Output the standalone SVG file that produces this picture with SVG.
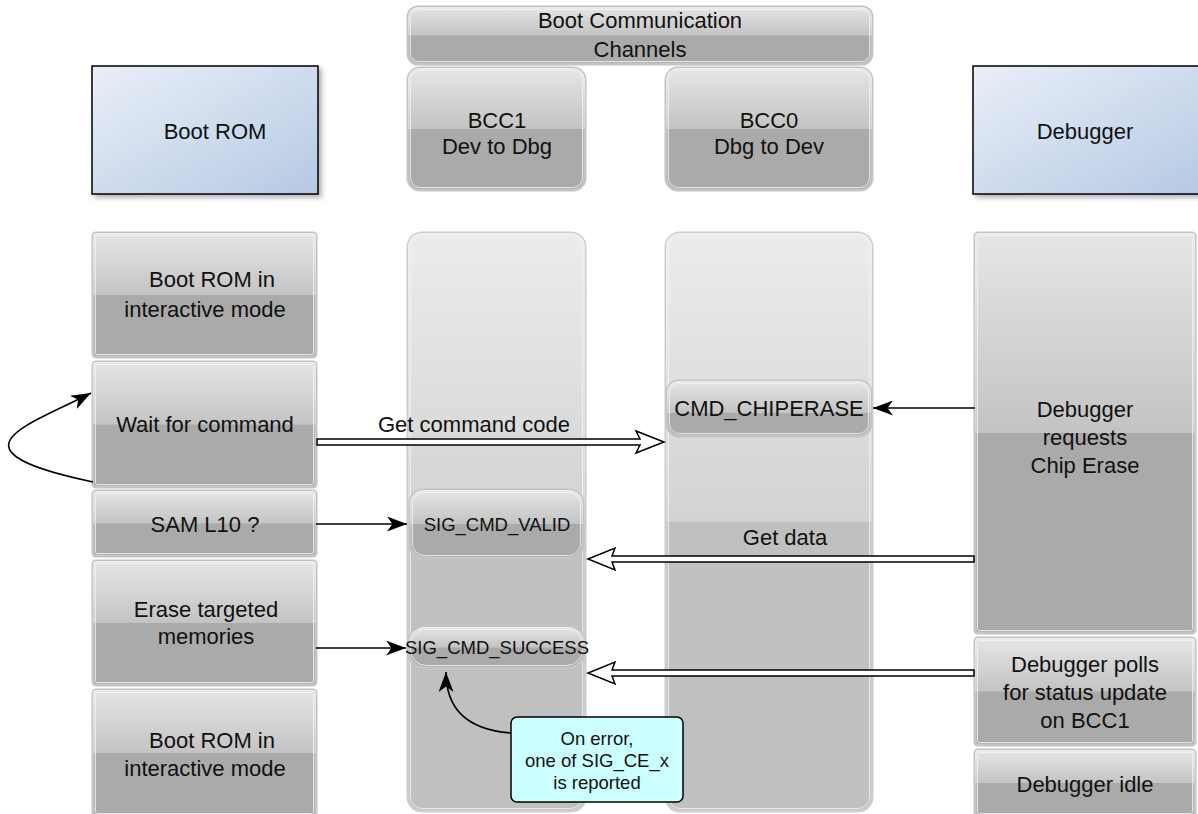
<svg xmlns="http://www.w3.org/2000/svg" width="1198" height="814" viewBox="0 0 1198 814">
<defs>
<linearGradient id="glass" x1="0" y1="0" x2="0" y2="1">
<stop offset="0" stop-color="#fff" stop-opacity="0.7"/>
<stop offset="1" stop-color="#fff" stop-opacity="0.3"/>
</linearGradient>
<linearGradient id="blue" x1="0" y1="0" x2="1" y2="1">
<stop offset="0" stop-color="#eaeff8"/>
<stop offset="1" stop-color="#b5c9e3"/>
</linearGradient>
<filter id="shadow" x="-10%" y="-10%" width="130%" height="130%">
<feDropShadow dx="3" dy="3" stdDeviation="2.5" flood-color="#000" flood-opacity="0.3"/>
</filter>
<marker id="arr" viewBox="0 0 20 15" refX="20" refY="7.5" markerWidth="20" markerHeight="15" markerUnits="userSpaceOnUse" orient="auto">
<path d="M0,0 L20,7.5 L0,15 L5.5,7.5 z" fill="#000"/>
</marker>
<style>
text{font-family:"Liberation Sans",Arial,sans-serif;font-size:22px;fill:#111;text-anchor:middle}
.s{font-size:18.5px}
.g{fill:#aaaaaa;stroke:#c4c4c4;stroke-width:3}
.gl{fill:#c0c0c0;stroke:#cdcdcd;stroke-width:3}
.hl{fill:url(#glass)}
.ring{fill:none;stroke:#f2f2f2;stroke-opacity:0.8;stroke-width:1}
.blue{fill:url(#blue);stroke:#000;stroke-width:1.5;filter:url(#shadow)}
.ln{fill:none;stroke:#000;stroke-width:1.6;marker-end:url(#arr)}
.flex{fill:#fff;stroke:#000;stroke-width:1.5;stroke-linejoin:miter}
</style>
</defs>

<g id="boot-rom-header">
<rect class="blue" x="92" y="66" width="226" height="128"/>
<text x="215" y="139">Boot ROM</text>
</g>
<g id="debugger-header">
<rect class="blue" x="973" y="66" width="230" height="128"/>
<text x="1085" y="139">Debugger</text>
</g>

<g id="bcc-header">
<rect class="g" x="408" y="7" width="464" height="57" rx="10"/>
<path class="hl" d="M408 35.5 V17 A10 10 0 0 1 418 7 H862 A10 10 0 0 1 872 17 V35.5 Z"/>
<rect class="ring" x="410.5" y="9.5" width="459" height="52" rx="8"/>
<text x="640" y="28">Boot Communication</text>
<text x="640" y="57">Channels</text>
</g>

<g id="bcc1-header">
<rect class="g" x="408" y="68" width="177" height="122" rx="12"/>
<path class="hl" d="M408 129 V80 A12 12 0 0 1 420 68 H573 A12 12 0 0 1 585 80 V129 Z"/>
<rect class="ring" x="410.5" y="70.5" width="172" height="117" rx="10"/>
<text x="497" y="128">BCC1</text>
<text x="497" y="154">Dev to Dbg</text>
</g>

<g id="bcc0-header">
<rect class="g" x="666" y="68" width="206" height="122" rx="12"/>
<path class="hl" d="M666 129 V80 A12 12 0 0 1 678 68 H860 A12 12 0 0 1 872 80 V129 Z"/>
<rect class="ring" x="668.5" y="70.5" width="201" height="117" rx="10"/>
<text x="769" y="128">BCC0</text>
<text x="769" y="154">Dbg to Dev</text>
</g>

<g id="bcc1-lane">
<rect class="gl" x="408" y="233" width="177" height="578" rx="14"/>
<path class="hl" d="M408 522 V247 A14 14 0 0 1 422 233 H571 A14 14 0 0 1 585 247 V522 Z"/>
<rect class="ring" x="410.5" y="235.5" width="172" height="573" rx="12"/>
</g>

<g id="bcc0-lane">
<rect class="gl" x="666" y="233" width="206" height="578" rx="14"/>
<path class="hl" d="M666 522 V247 A14 14 0 0 1 680 233 H858 A14 14 0 0 1 872 247 V522 Z"/>
<rect class="ring" x="668.5" y="235.5" width="201" height="573" rx="12"/>
</g>

<g id="rom-interactive-1">
<rect class="g" x="93" y="233" width="223" height="124" rx="3"/>
<path class="hl" d="M93 295 V236 A3 3 0 0 1 96 233 H313 A3 3 0 0 1 316 236 V295 Z"/>
<rect class="ring" x="95.5" y="235.5" width="218" height="119" rx="2"/>
<text x="212" y="287">Boot ROM in</text>
<text x="205" y="317">interactive mode</text>
</g>

<g id="wait-command">
<rect class="g" x="93" y="362" width="223" height="125" rx="3"/>
<path class="hl" d="M93 424.5 V365 A3 3 0 0 1 96 362 H313 A3 3 0 0 1 316 365 V424.5 Z"/>
<rect class="ring" x="95.5" y="364.5" width="218" height="120" rx="2"/>
<text x="205" y="432">Wait for command</text>
</g>

<g id="sam-l10">
<rect class="g" x="93" y="491" width="223" height="65" rx="3"/>
<path class="hl" d="M93 523.5 V494 A3 3 0 0 1 96 491 H313 A3 3 0 0 1 316 494 V523.5 Z"/>
<rect class="ring" x="95.5" y="493.5" width="218" height="60" rx="2"/>
<text x="205" y="532">SAM L10 ?</text>
</g>

<g id="erase-memories">
<rect class="g" x="93" y="561" width="223" height="124" rx="3"/>
<path class="hl" d="M93 623 V564 A3 3 0 0 1 96 561 H313 A3 3 0 0 1 316 564 V623 Z"/>
<rect class="ring" x="95.5" y="563.5" width="218" height="119" rx="2"/>
<text x="206" y="617">Erase targeted</text>
<text x="206" y="644">memories</text>
</g>

<g id="rom-interactive-2">
<rect class="g" x="93" y="690" width="223" height="126" rx="3"/>
<path class="hl" d="M93 753 V693 A3 3 0 0 1 96 690 H313 A3 3 0 0 1 316 693 V753 Z"/>
<rect class="ring" x="95.5" y="692.5" width="218" height="121" rx="2"/>
<text x="212" y="748">Boot ROM in</text>
<text x="205" y="776">interactive mode</text>
</g>

<g id="debugger-request">
<rect class="g" x="975" y="233" width="220" height="400" rx="3"/>
<path class="hl" d="M975 433 V236 A3 3 0 0 1 978 233 H1192 A3 3 0 0 1 1195 236 V433 Z"/>
<rect class="ring" x="977.5" y="235.5" width="215" height="395" rx="2"/>
<text x="1085" y="417">Debugger</text>
<text x="1085" y="445">requests</text>
<text x="1085" y="473">Chip Erase</text>
</g>

<g id="debugger-polls">
<rect class="g" x="975" y="638" width="220" height="107" rx="3"/>
<path class="hl" d="M975 691.5 V641 A3 3 0 0 1 978 638 H1192 A3 3 0 0 1 1195 641 V691.5 Z"/>
<rect class="ring" x="977.5" y="640.5" width="215" height="102" rx="2"/>
<text x="1085" y="672">Debugger polls</text>
<text x="1085" y="700">for status update</text>
<text x="1085" y="728">on BCC1</text>
</g>

<g id="debugger-idle">
<rect class="g" x="975" y="750" width="220" height="66" rx="3"/>
<path class="hl" d="M975 783 V753 A3 3 0 0 1 978 750 H1192 A3 3 0 0 1 1195 753 V783 Z"/>
<rect class="ring" x="977.5" y="752.5" width="215" height="61" rx="2"/>
<text x="1085" y="792">Debugger idle</text>
</g>

<g id="cmd-chiperase">
<rect class="g" x="667" y="381" width="204" height="55" rx="12"/>
<path class="hl" d="M667 413 V393 A12 12 0 0 1 679 381 H859 A12 12 0 0 1 871 393 V413 Z"/>
<rect class="ring" x="669.5" y="383.5" width="199" height="50" rx="10"/>
<text x="769" y="416">CMD_CHIPERASE</text>
</g>

<g id="sig-cmd-valid">
<rect class="g" x="410" y="490" width="173" height="68" rx="14"/>
<path class="hl" d="M410 524 V504 A14 14 0 0 1 424 490 H569 A14 14 0 0 1 583 504 V524 Z"/>
<rect class="ring" x="412.5" y="492.5" width="168" height="63" rx="12"/>
<text class="s" x="497" y="531">SIG_CMD_VALID</text>
</g>

<g id="sig-cmd-success">
<rect class="g" x="408" y="627" width="177" height="41" rx="18"/>
<path class="hl" d="M408 647.5 V645 A18 18 0 0 1 426 627 H567 A18 18 0 0 1 585 645 V647.5 Z"/>
<rect class="ring" x="410.5" y="629.5" width="172" height="36" rx="16"/>
<text class="s" x="497" y="654">SIG_CMD_SUCCESS</text>
</g>

<g id="error-note">
<rect x="511" y="717" width="172" height="85" rx="6" fill="#ccffff" stroke="#000" stroke-width="1.5"/>
<text class="s" x="597" y="745">On error,</text>
<text class="s" x="597" y="767">one of SIG_CE_x</text>
<text class="s" x="597" y="789">is reported</text>
</g>

<g id="connectors">
<path class="ln" d="M93 482 C -60 450, 30 425, 91 393"/>
<path class="ln" d="M975 408 H873"/>
<path class="ln" d="M316 524 H407"/>
<path class="ln" d="M316 648 H406"/>
<path class="ln" d="M511 733 C 470 730, 446 712, 446 672"/>
<polygon class="flex" points="317,439 640,439 636,431 664,442 636,453 640,445 317,445"/>
<polygon class="flex" points="974,556 612,556 615,548 588,559 615,570 612,562 974,562"/>
<polygon class="flex" points="974,670 612,670 615,662 588,673 615,684 612,676 974,676"/>
<text x="474" y="432">Get command code</text>
<text x="785" y="545">Get data</text>
</g>
</svg>
